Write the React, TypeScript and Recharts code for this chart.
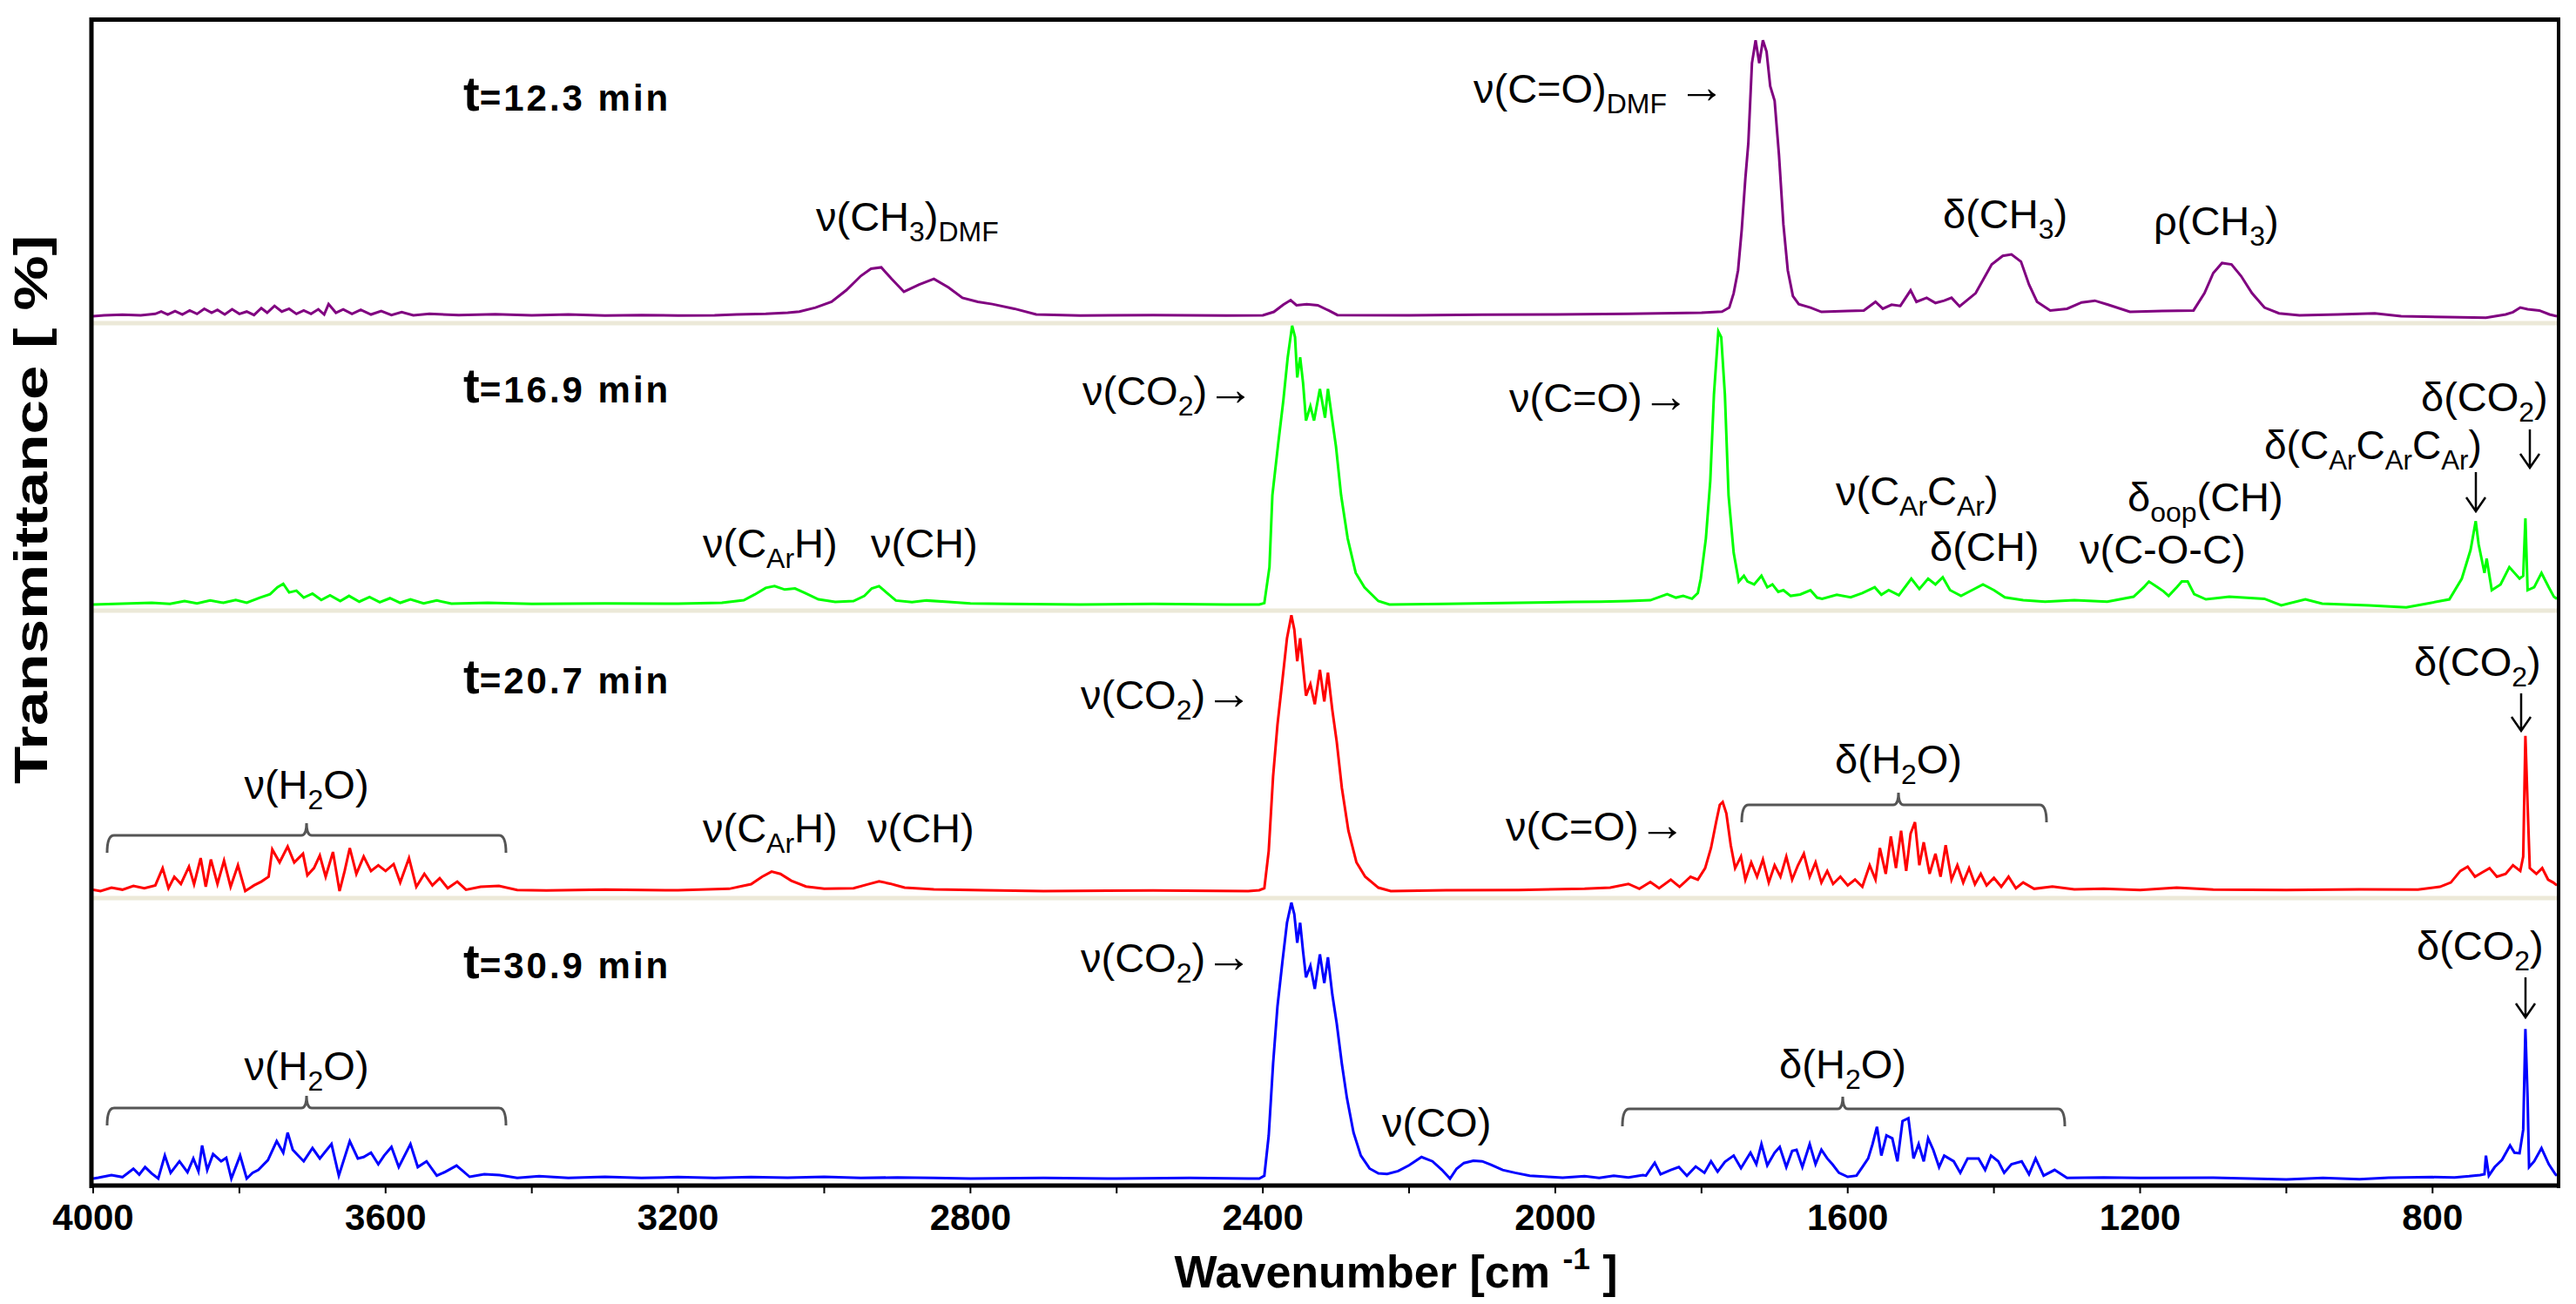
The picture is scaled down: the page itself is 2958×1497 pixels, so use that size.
import React from 'react';
import { LineChart, Line, XAxis, YAxis } from 'recharts';

const FONT = '"Liberation Sans", Arial, Helvetica, sans-serif';

// wavenumber [cm-1], transmittance (arbitrary, baseline = 0)
const spec123: [number, number][] = [
  [4000, 0], [3985, 0.3], [3960, 0.5], [3935, 0.3], [3915, 0.8], [3907, 1.6], [3898, 0.6], [3888, 1.8], [3878, 0.6], [3868, 2],
  [3858, 0.8], [3848, 2.6], [3838, 1.2], [3830, 2.2], [3820, 0.6], [3810, 2.4], [3800, 0.8], [3790, 1.6], [3780, 0.4], [3770, 2.8],
  [3762, 1.2], [3752, 3.6], [3742, 1.6], [3732, 2.6], [3722, 0.8], [3712, 2], [3702, 0.8], [3692, 2.4], [3684, 0.6], [3678, 4.2],
  [3668, 1.2], [3658, 2.4], [3646, 0.8], [3634, 2.2], [3620, 0.6], [3606, 1.8], [3592, 0.4], [3578, 1.4], [3562, 0.3], [3540, 0.8],
  [3500, 0.4], [3450, 0.7], [3400, 0.3], [3350, 0.6], [3300, 0.2], [3250, 0.4], [3200, 0.2], [3150, 0.3], [3120, 0.6], [3080, 0.8],
  [3050, 1.2], [3034, 1.6], [3012, 3], [2990, 5], [2970, 9], [2950, 14], [2936, 16.5], [2922, 17], [2908, 13], [2891, 8.5],
  [2870, 11], [2850, 13], [2830, 10], [2811, 6.4], [2790, 5], [2770, 4.2], [2740, 2.6], [2710, 0.6], [2650, 0.2], [2550, 0.4],
  [2450, 0.2], [2400, 0.3], [2385, 1.5], [2372, 4], [2362, 5.6], [2354, 3.8], [2340, 4.2], [2325, 3.8], [2310, 2], [2298, 0.4],
  [2200, 0.3], [2100, 0.5], [2000, 0.6], [1900, 0.8], [1800, 1.2], [1772, 1.6], [1762, 3], [1756, 8], [1750, 16], [1745, 30],
  [1740, 48], [1736, 60], [1731, 88], [1726, 96], [1721, 88], [1716, 96], [1711, 92], [1706, 80], [1700, 75], [1694, 56],
  [1688, 32], [1682, 16], [1675, 7], [1667, 4.2], [1651, 3], [1636, 1.5], [1600, 1.8], [1578, 2], [1562, 5], [1552, 2.6],
  [1540, 4], [1528, 3.6], [1514, 9], [1506, 5], [1492, 6.4], [1480, 4.6], [1468, 5.4], [1458, 6.4], [1447, 3.4], [1425, 8],
  [1403, 18], [1388, 21], [1376, 21.5], [1363, 19], [1352, 11], [1341, 5], [1323, 2], [1300, 2.6], [1280, 4.8], [1262, 5.4],
  [1244, 4], [1214, 1.5], [1170, 1.8], [1127, 2], [1112, 8], [1100, 15], [1088, 18.5], [1075, 18], [1062, 14], [1047, 8],
  [1030, 3], [1010, 1], [982, 0.3], [930, 0.6], [879, 1], [843, 0], [780, -0.3], [727, -0.5], [700, 0.6], [690, 1.4],
  [680, 3], [670, 2.4], [654, 2], [640, 0.6], [630, 0],
];

const spec169: [number, number][] = [
  [4000, 0], [3960, 0.3], [3920, 0.6], [3895, 0.2], [3875, 1.2], [3858, 0.4], [3840, 1.4], [3822, 0.6], [3805, 1.6], [3790, 0.6],
  [3772, 2.4], [3758, 3.6], [3748, 6], [3740, 7.2], [3732, 4.2], [3722, 4.8], [3712, 2.4], [3700, 3.8], [3688, 1.6], [3676, 3.2],
  [3662, 1.2], [3650, 3], [3636, 1], [3622, 2.6], [3608, 0.8], [3594, 2.2], [3580, 0.6], [3566, 1.8], [3548, 0.4], [3530, 1.4],
  [3510, 0.3], [3460, 0.6], [3400, 0.2], [3300, 0.4], [3200, 0.3], [3140, 0.6], [3110, 1.5], [3095, 3.5], [3080, 5.8], [3068, 6.4],
  [3054, 5.2], [3040, 5.6], [3026, 4], [3008, 1.8], [2985, 0.9], [2960, 1.2], [2945, 3], [2935, 5.6], [2925, 6.4], [2915, 4.2],
  [2902, 1.4], [2880, 0.8], [2860, 1.4], [2830, 0.9], [2800, 0.4], [2750, 0.2], [2650, 0], [2550, 0.2], [2450, 0], [2405, 0],
  [2398, 0.5], [2391, 13], [2387, 38], [2379, 56], [2372, 71], [2366, 86], [2360, 97], [2356, 93], [2353, 79], [2349, 86],
  [2345, 77], [2341, 64], [2335, 69], [2330, 64], [2322, 75], [2315, 65], [2311, 75], [2305, 64], [2300, 55], [2293, 38],
  [2284, 23], [2273, 11], [2261, 6], [2242, 1.2], [2227, 0], [2150, 0.2], [2050, 0.6], [1976, 0.9], [1938, 1], [1900, 1.2],
  [1870, 1.5], [1847, 3.6], [1835, 2.4], [1825, 3], [1813, 2], [1805, 4], [1801, 9], [1794, 23], [1788, 43], [1783, 73],
  [1777, 95], [1773, 93], [1768, 73], [1763, 38], [1756, 18], [1749, 8], [1742, 10], [1737, 8], [1728, 7], [1718, 10],
  [1710, 6], [1703, 7], [1695, 4.4], [1688, 5], [1678, 3], [1665, 3.5], [1651, 5], [1642, 2.4], [1635, 2], [1615, 3.4],
  [1596, 2.5], [1580, 4], [1563, 6], [1554, 3.4], [1544, 5], [1530, 3.2], [1513, 9], [1502, 5.4], [1490, 9], [1480, 7],
  [1470, 9.5], [1460, 5], [1445, 3], [1430, 5], [1415, 7], [1400, 5], [1385, 2.5], [1360, 1.5], [1330, 1], [1290, 1.5],
  [1245, 1], [1209, 2.7], [1195, 6], [1188, 8], [1176, 6], [1168, 4.6], [1161, 3], [1150, 6], [1143, 8], [1135, 8],
  [1126, 3.6], [1110, 1.8], [1078, 2.7], [1030, 2], [1007, -0.3], [974, 1.8], [951, 0.3], [887, -0.3], [836, -1], [808, 0.3],
  [777, 1.8], [760, 9], [748, 19], [741, 29], [737, 21], [729, 11], [726, 16], [719, 5], [707, 7], [695, 13],
  [681, 9], [676, 10], [673, 30], [670, 5], [661, 6], [651, 11], [641, 6], [634, 2.7], [630, 2],
];

const spec207: [number, number][] = [
  [4000, 0.5], [3990, 0], [3975, 1.2], [3960, 0.5], [3945, 1.8], [3930, 1], [3915, 2], [3905, 8], [3897, 1], [3889, 5],
  [3880, 2.5], [3869, 8.5], [3862, 2.4], [3853, 11.5], [3846, 1.5], [3839, 11], [3830, 2.5], [3821, 10.6], [3812, 1.5], [3802, 9],
  [3792, 0], [3780, 2], [3770, 3.3], [3760, 5], [3755, 14.5], [3745, 10], [3734, 15.5], [3725, 10], [3713, 13], [3707, 5.5],
  [3698, 8], [3690, 12.4], [3682, 5], [3672, 13.6], [3663, 0], [3656, 7], [3649, 15], [3640, 6], [3630, 12], [3620, 7],
  [3610, 9], [3600, 7], [3589, 9.4], [3580, 3], [3568, 11.5], [3558, 1.5], [3547, 6], [3536, 2], [3526, 4.5], [3515, 1],
  [3502, 3.3], [3490, 0.5], [3470, 1.5], [3445, 1.8], [3420, 0.4], [3380, 0.2], [3300, 0.5], [3200, 0.3], [3130, 0.8], [3100, 2.4],
  [3085, 5], [3072, 6.8], [3060, 6], [3045, 3.6], [3025, 1.6], [3000, 0.8], [2960, 1], [2940, 2.4], [2925, 3.4], [2910, 2.6],
  [2890, 1.2], [2850, 0.6], [2780, 0.3], [2700, 0], [2550, 0.2], [2420, 0], [2405, 0.3], [2398, 1], [2392, 14], [2386, 40],
  [2380, 58], [2373, 74], [2367, 88], [2361, 96], [2357, 91], [2353, 80], [2349, 88], [2345, 78], [2341, 68], [2335, 72],
  [2329, 65], [2322, 77], [2316, 66], [2311, 76], [2305, 63], [2299, 52], [2292, 36], [2283, 21], [2272, 10], [2260, 5],
  [2242, 1.2], [2225, 0], [2150, 0.3], [2050, 0.4], [1960, 0.8], [1925, 1.2], [1900, 2.5], [1885, 0.8], [1870, 3.2], [1858, 1],
  [1842, 4], [1830, 1.5], [1815, 5], [1805, 4], [1795, 8], [1787, 15], [1780, 24], [1775, 30], [1771, 31], [1766, 27],
  [1760, 16], [1754, 8], [1746, 12], [1740, 4], [1732, 10], [1724, 5], [1716, 11], [1708, 3], [1700, 9], [1692, 5],
  [1684, 12], [1676, 4], [1668, 9], [1660, 13], [1652, 5], [1644, 10], [1636, 3], [1628, 7], [1620, 2.5], [1610, 5],
  [1600, 2], [1590, 4], [1580, 1.5], [1570, 9], [1562, 4], [1556, 15], [1548, 6], [1541, 19], [1534, 8], [1527, 21],
  [1520, 7], [1514, 20], [1508, 24], [1502, 9], [1496, 17], [1488, 6], [1480, 13], [1473, 5], [1466, 16], [1458, 4],
  [1450, 9], [1442, 3], [1434, 8], [1426, 2.4], [1418, 6], [1410, 2], [1400, 4.6], [1390, 1.5], [1380, 5], [1370, 1],
  [1360, 3], [1345, 0.8], [1320, 1.6], [1290, 0.6], [1250, 0.8], [1200, 0.4], [1150, 1.2], [1100, 0.5], [1000, 0.4], [900, 0.6],
  [820, 0.5], [790, 1.5], [775, 3], [762, 7], [752, 8.5], [742, 5], [732, 6.5], [722, 8], [712, 5], [700, 6],
  [690, 9], [680, 7], [676, 12], [673, 54], [670, 30], [667, 8], [658, 6], [650, 8], [642, 4], [635, 3], [630, 2],
];

const spec309: [number, number][] = [
  [4000, 0], [3993, 0.3], [3975, 1.2], [3960, 0.5], [3945, 3.4], [3937, 1.4], [3929, 4], [3920, 1.8], [3911, 0], [3902, 8],
  [3894, 2], [3882, 6], [3871, 2.2], [3863, 7], [3856, 2.5], [3851, 11.5], [3844, 3], [3836, 8.5], [3825, 6], [3818, 7.2],
  [3811, 0], [3799, 8], [3790, 0], [3782, 2], [3774, 3], [3761, 6.4], [3749, 13], [3740, 9], [3734, 16], [3727, 10],
  [3712, 6], [3700, 10.6], [3690, 7], [3674, 12], [3664, 1], [3649, 13], [3638, 7], [3630, 7.5], [3620, 9], [3610, 5],
  [3602, 8], [3592, 11], [3582, 4], [3566, 12], [3556, 4], [3544, 6], [3530, 1], [3518, 2.4], [3503, 4.5], [3485, 0.6],
  [3465, 1.5], [3444, 1.2], [3420, 0.2], [3390, 0.8], [3350, 0.2], [3300, 0.6], [3250, 0.2], [3200, 0.5], [3150, 0.2], [3100, 0.5],
  [3050, 0.3], [3000, 0.6], [2950, 0.2], [2900, 0.4], [2850, 0.2], [2800, 0], [2700, 0.2], [2600, 0], [2500, 0.2], [2420, 0],
  [2405, 0], [2398, 1], [2392, 15], [2386, 40], [2380, 60], [2373, 76], [2367, 89], [2361, 96], [2357, 92], [2353, 82],
  [2349, 89], [2345, 79], [2341, 70], [2335, 74], [2329, 66], [2322, 78], [2316, 68], [2311, 77], [2305, 64], [2299, 54],
  [2292, 40], [2285, 28], [2276, 16], [2266, 8], [2254, 3.5], [2242, 1.8], [2230, 1.6], [2215, 2.6], [2200, 4.6], [2183, 7.5],
  [2168, 6], [2155, 3], [2144, 0], [2135, 3.4], [2125, 5.4], [2112, 6.2], [2100, 6], [2088, 4.8], [2072, 3], [2055, 2],
  [2035, 1], [2010, 0.6], [1990, 0.3], [1960, 0.8], [1940, 0.2], [1920, 1], [1900, 0.4], [1880, 1.2], [1876, 1], [1864, 5.5],
  [1856, 1.5], [1842, 3], [1831, 4], [1820, 1], [1808, 4.2], [1796, 2], [1787, 6], [1778, 2.4], [1768, 5.8], [1756, 8],
  [1746, 3.6], [1733, 9], [1725, 5], [1718, 12], [1710, 4.6], [1700, 9], [1693, 11], [1684, 4], [1676, 9.6], [1670, 10],
  [1662, 4], [1652, 12], [1644, 5], [1636, 10], [1628, 7], [1621, 5], [1612, 2], [1600, 0.6], [1588, 1], [1580, 4],
  [1572, 7], [1566, 12], [1560, 18], [1554, 8], [1547, 15], [1539, 14], [1532, 6], [1525, 20], [1517, 21], [1510, 7],
  [1503, 12], [1496, 6], [1490, 14], [1483, 10], [1475, 4], [1468, 8], [1455, 6], [1446, 2], [1436, 7], [1421, 7],
  [1412, 3], [1404, 8], [1394, 6], [1386, 2], [1376, 5], [1362, 6], [1352, 1.5], [1343, 7], [1332, 1], [1317, 3],
  [1300, 0.2], [1250, 0.4], [1200, 0.2], [1100, 0.3], [1000, -0.3], [950, 0.2], [900, -0.2], [860, 0.3], [800, 0.5], [770, 0.4],
  [750, 0.8], [735, 1.2], [729, 1.5], [727, 8], [723, 1], [715, 4], [705, 6.5], [694, 11.5], [688, 9], [681, 8.8],
  [676, 17], [673, 52], [670, 28], [668, 4], [661, 6], [651, 10.6], [641, 5], [632, 1.5], [630, 1],
];

const xTicks = [4000, 3800, 3600, 3400, 3200, 3000, 2800, 2600, 2400, 2200, 2000, 1800, 1600, 1400, 1200, 1000, 800];

const toRows = (s: [number, number][]) => s.map(([w, v]) => ({ w, v }));

// plot area in page pixels
const PLOT_LEFT = 107;
const PLOT_WIDTH = 2829;
const PANEL_H = 330;
const ML = 60;
const MR = 20;

interface PanelProps {
  spec: [number, number][];
  color: string;
  bottom: number;
  base: number;
  axis?: boolean;
}

const Panel: React.FC<PanelProps> = ({ spec, color, bottom, base, axis }) => {
  const lo = -(bottom - base) / 3.3;
  const axisH = 80;
  return (
    <div style={{ position: 'absolute', left: PLOT_LEFT - ML, top: bottom - PANEL_H }}>
      <LineChart
        width={PLOT_WIDTH + ML + MR}
        height={PANEL_H + (axis ? axisH : 0)}
        data={toRows(spec)}
        margin={{ top: 0, right: MR, bottom: 0, left: ML }}
      >
        <XAxis
          type="number"
          dataKey="w"
          domain={[630, 4000]}
          reversed
          allowDataOverflow
          hide={!axis}
          height={axisH}
          ticks={xTicks}
          interval={0}
          tickFormatter={(v: number) => (v % 400 === 0 ? String(v) : '')}
          axisLine={false}
          tickSize={9}
          tickMargin={12}
          tickLine={{ stroke: '#000', strokeWidth: 2 }}
          tick={{ fill: '#000', fontSize: 42, fontWeight: 700, fontFamily: FONT }}
        />
        <YAxis hide domain={[lo, lo + 100]} allowDataOverflow />
        <Line type="linear" dataKey="v" stroke={color} strokeWidth={3} dot={false} isAnimationActive={false} />
      </LineChart>
    </div>
  );
};

type Part = [string, ('n' | 's' | 'p' | 'a')?];

// 'n' normal, 's' subscript, 'p' superscript, 'a' arrow (a bit larger)
const Label: React.FC<{ x: number; y: number; parts: Part[]; size?: number; anchor?: string; bold?: boolean }> = ({
  x, y, parts, size = 47, anchor = 'start', bold = false,
}) => {
  let cur = 0;
  return (
    <text x={x} y={y} fontSize={size} fontFamily={FONT} fontWeight={bold ? 700 : 400} textAnchor={anchor as any} fill="#000" style={{ whiteSpace: 'pre' }}>
      {parts.map(([t, k = 'n'], i) => {
        const target = k === 's' ? size * 0.25 : k === 'p' ? -size * 0.4 : 0;
        const d = target - cur;
        cur = target;
        const fs = k === 'n' ? size : k === 'a' ? size * 1.15 : size * 0.68;
        return (
          <tspan key={i} dy={d} fontSize={fs}>
            {t}
          </tspan>
        );
      })}
    </text>
  );
};

const TimeLabel: React.FC<{ x: number; y: number; text: string }> = ({ x, y, text }) => (
  <text x={x} y={y} fontFamily={FONT} fontWeight={700} fill="#000">
    <tspan fontSize={56}>t</tspan>
    <tspan fontSize={42} letterSpacing={3}>{text}</tspan>
  </text>
);

const Bracket: React.FC<{ x1: number; x2: number; y: number; xc: number }> = ({ x1, x2, y, xc }) => (
  <path
    d={`M${x1},${y + 20} Q${x1},${y} ${x1 + 8},${y} L${xc - 6},${y} Q${xc},${y} ${xc},${y - 14} Q${xc},${y} ${xc + 6},${y} L${x2 - 8},${y} Q${x2},${y} ${x2},${y + 20}`}
    fill="none"
    stroke="#555"
    strokeWidth={3}
  />
);

const Down: React.FC<{ x: number; y1: number; y2: number }> = ({ x, y1, y2 }) => (
  <path d={`M${x},${y1} L${x},${y2} M${x - 11},${y2 - 16} L${x},${y2} L${x + 11},${y2 - 16}`} fill="none" stroke="#000" strokeWidth={2.5} />
);

export default function App() {
  return (
    <div style={{ position: 'absolute', left: 0, top: 0, width: 2958, height: 1497, background: '#fff', overflow: 'hidden' }}>
      <svg width={2958} height={1497} style={{ position: 'absolute', left: 0, top: 0 }}>
        {[371, 701, 1031].map((y) => (
          <line key={y} x1={107} x2={2936} y1={y} y2={y} stroke="#ECE9D8" strokeWidth={5} />
        ))}
      </svg>

      <Panel spec={spec123} color="#800080" bottom={371} base={363} />
      <Panel spec={spec169} color="#00FF00" bottom={701} base={694} />
      <Panel spec={spec207} color="#FF0000" bottom={1031} base={1023} />
      <Panel spec={spec309} color="#0000FF" bottom={1361} base={1353} axis />

      <svg width={2958} height={1497} style={{ position: 'absolute', left: 0, top: 0, pointerEvents: 'none' }}>
        {/* frame */}
        <line x1={103} x2={2940} y1={22.5} y2={22.5} stroke="#000" strokeWidth={5} />
        <line x1={105} x2={105} y1={20} y2={1364} stroke="#000" strokeWidth={5} />
        <line x1={103} x2={2940} y1={1361} y2={1361} stroke="#000" strokeWidth={5} />
        <line x1={2938} x2={2938} y1={20} y2={1364} stroke="#000" strokeWidth={4} />

        {/* axis titles */}
        <Label x={1603} y={1478} size={52} bold anchor="middle" parts={[['Wavenumber [cm '], ['-1', 'p'], [' ]']]} />
        <text
          transform="translate(54,585) rotate(-90)"
          textAnchor="middle"
          fontFamily={FONT}
          fontWeight={700}
          fontSize={54}
          textLength={630}
          lengthAdjust="spacingAndGlyphs"
          fill="#000"
        >
          Transmittance [ %]
        </text>

        {/* t = 12.3 min */}
        <TimeLabel x={532} y={127} text="=12.3 min" />
        <Label x={937} y={265} parts={[['ν(CH'], ['3', 's'], [')'], ['DMF', 's']]} />
        <Label x={1692} y={118} parts={[['ν(C=O)'], ['DMF', 's'], [' '], ['→', 'a']]} />
        <Label x={2231} y={262} parts={[['δ(CH'], ['3', 's'], [')']]} />
        <Label x={2473} y={270} parts={[['ρ(CH'], ['3', 's'], [')']]} />

        {/* t = 16.9 min */}
        <TimeLabel x={532} y={462} text="=16.9 min" />
        <Label x={807} y={640} parts={[['ν(C'], ['Ar', 's'], ['H)']]} />
        <Label x={1000} y={640} parts={[['ν(CH)']]} />
        <Label x={1243} y={465} parts={[['ν(CO'], ['2', 's'], [')'], ['→', 'a']]} />
        <Label x={1733} y={473} parts={[['ν(C=O)'], ['→', 'a']]} />
        <Label x={2108} y={580} parts={[['ν(C'], ['Ar', 's'], ['C'], ['Ar', 's'], [')']]} />
        <Label x={2216} y={644} parts={[['δ(CH)']]} />
        <Label x={2443} y={587} parts={[['δ'], ['oop', 's'], ['(CH)']]} />
        <Label x={2388} y={647} parts={[['ν(C-O-C)']]} />
        <Label x={2600} y={527} size={46} parts={[['δ(C'], ['Ar', 's'], ['C'], ['Ar', 's'], ['C'], ['Ar', 's'], [')']]} />
        <Down x={2843} y1={542} y2={587} />
        <Label x={2780} y={472} parts={[['δ(CO'], ['2', 's'], [')']]} />
        <Down x={2905} y1={493} y2={537} />

        {/* t = 20.7 min */}
        <TimeLabel x={532} y={796} text="=20.7 min" />
        <Label x={352} y={917} anchor="middle" parts={[['ν(H'], ['2', 's'], ['O)']]} />
        <Bracket x1={123} x2={581} xc={352} y={959} />
        <Label x={807} y={967} parts={[['ν(C'], ['Ar', 's'], ['H)']]} />
        <Label x={996} y={967} parts={[['ν(CH)']]} />
        <Label x={1241} y={814} parts={[['ν(CO'], ['2', 's'], [')'], ['→', 'a']]} />
        <Label x={1729} y={965} parts={[['ν(C=O)'], ['→', 'a']]} />
        <Label x={2180} y={888} anchor="middle" parts={[['δ(H'], ['2', 's'], ['O)']]} />
        <Bracket x1={2000} x2={2350} xc={2180} y={924} />
        <Label x={2772} y={776} parts={[['δ(CO'], ['2', 's'], [')']]} />
        <Down x={2895} y1={796} y2={839} />

        {/* t = 30.9 min */}
        <TimeLabel x={532} y={1123} text="=30.9 min" />
        <Label x={352} y={1240} anchor="middle" parts={[['ν(H'], ['2', 's'], ['O)']]} />
        <Bracket x1={123} x2={581} xc={352} y={1272} />
        <Label x={1241} y={1116} parts={[['ν(CO'], ['2', 's'], [')'], ['→', 'a']]} />
        <Label x={1587} y={1305} parts={[['ν(CO)']]} />
        <Label x={2116} y={1238} anchor="middle" parts={[['δ(H'], ['2', 's'], ['O)']]} />
        <Bracket x1={1863} x2={2371} xc={2116} y={1273} />
        <Label x={2775} y={1102} parts={[['δ(CO'], ['2', 's'], [')']]} />
        <Down x={2900} y1={1122} y2={1168} />
      </svg>
    </div>
  );
}
